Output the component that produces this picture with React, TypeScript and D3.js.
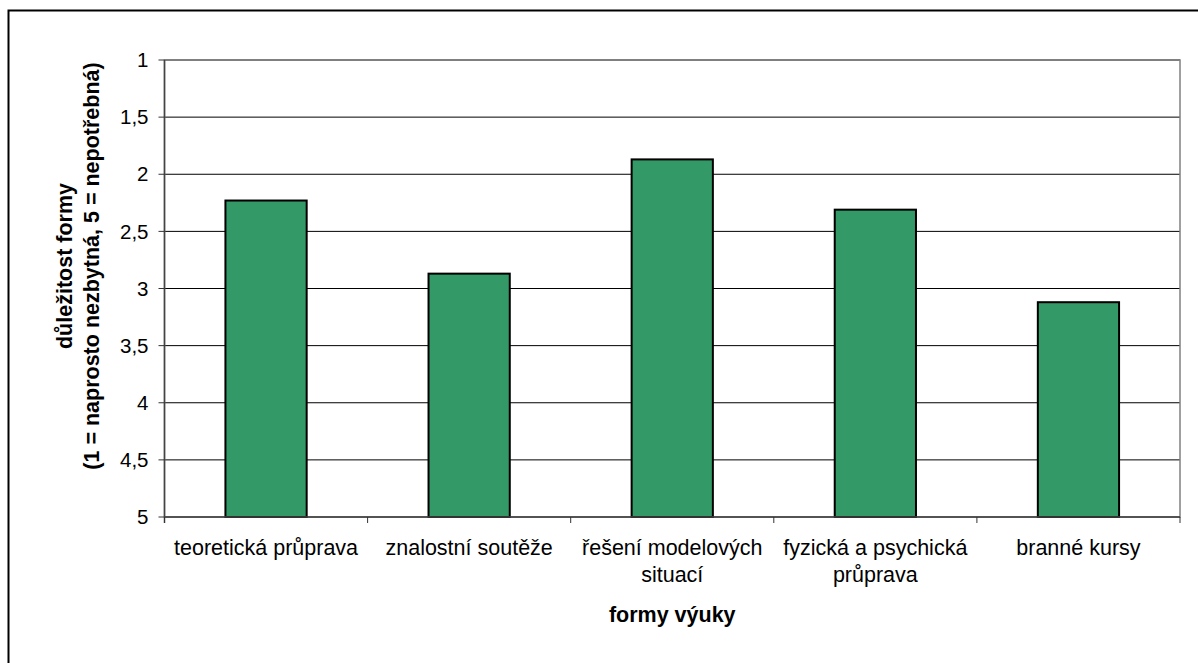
import React from "react";
import * as d3 from "d3";

const categories: string[] = [
  "teoretická průprava",
  "znalostní soutěže",
  "řešení modelových\nsituací",
  "fyzická a psychická\nprůprava",
  "branné kursy",
];
const values: number[] = [2.23, 2.87, 1.87, 2.31, 3.12];
const yTicks: number[] = [1, 1.5, 2, 2.5, 3, 3.5, 4, 4.5, 5];
const yTitleLines: string[] = ["důležitost formy", "(1 = naprosto nezbytná, 5 = nepotřebná)"];
const xTitle = "formy výuky";

const W = 1198;
const H = 663;
const plot = { left: 164.5, right: 1180, top: 60, bottom: 517 };
const FONT = "'Liberation Sans', Arial, sans-serif";

export default function App() {
  const x = d3
    .scaleBand<string>()
    .domain(categories)
    .range([plot.left, plot.right])
    .padding(0);
  const y = d3.scaleLinear().domain([1, 5]).range([plot.top, plot.bottom]);
  const bw = x.bandwidth();
  const fmt = (v: number) => String(v).replace(".", ",");

  return (
    <svg
      width={W}
      height={H}
      style={{ position: "absolute", left: 0, top: 0, background: "#fff" }}
    >
      <rect x={0} y={0} width={W} height={H} fill="#fff" />
      {/* outer frame */}
      <rect x={8.5} y={10.5} width={1400} height={900} fill="none" stroke="#000" strokeWidth={2} />

      {/* gridlines */}
      {yTicks.map((t) => (
        <line
          key={"g" + t}
          x1={plot.left}
          x2={plot.right}
          y1={y(t)}
          y2={y(t)}
          stroke="#000"
          strokeWidth={1}
        />
      ))}

      {/* plot border */}
      <rect
        x={plot.left}
        y={plot.top}
        width={plot.right - plot.left}
        height={plot.bottom - plot.top}
        fill="none"
        stroke="#808080"
        strokeWidth={1.5}
      />

      {/* bars */}
      {categories.map((c, i) => {
        const x0 = (x(c) as number) + bw * 0.3;
        const yTop = y(values[i]);
        return (
          <rect
            key={"b" + i}
            x={x0}
            y={yTop}
            width={bw * 0.4}
            height={y(5) - yTop}
            fill="#339966"
            stroke="#000"
            strokeWidth={2}
          />
        );
      })}

      {/* y axis */}
      <line x1={plot.left} x2={plot.left} y1={plot.top} y2={plot.bottom + 6} stroke="#444" strokeWidth={1.5} />
      {yTicks.map((t) => (
        <g key={"t" + t}>
          <line
            x1={plot.left - 6}
            x2={plot.left}
            y1={y(t)}
            y2={y(t)}
            stroke="#333"
            strokeWidth={1}
          />
          <text
            x={plot.left - 16}
            y={y(t)}
            dy="0.35em"
            textAnchor="end"
            fontFamily={FONT}
            fontSize={20.5}
            fill="#000"
          >
            {fmt(t)}
          </text>
        </g>
      ))}

      {/* x axis */}
      <line x1={plot.left} x2={plot.right} y1={plot.bottom} y2={plot.bottom} stroke="#444" strokeWidth={1.5} />
      {[...categories.map((c) => x(c) as number), plot.right].map((px, i) => (
        <line
          key={"xt" + i}
          x1={px}
          x2={px}
          y1={plot.bottom}
          y2={plot.bottom + 6}
          stroke="#333"
          strokeWidth={1}
        />
      ))}
      {categories.map((c, i) => (
        <text
          key={"xl" + i}
          x={(x(c) as number) + bw / 2}
          y={555}
          textAnchor="middle"
          fontFamily={FONT}
          fontSize={21.5}
          fill="#000"
        >
          {c.split("\n").map((line, j) => (
            <tspan key={j} x={(x(c) as number) + bw / 2} dy={j === 0 ? 0 : 27}>
              {line}
            </tspan>
          ))}
        </text>
      ))}

      {/* axis titles */}
      <text
        x={(plot.left + plot.right) / 2}
        y={622}
        textAnchor="middle"
        fontFamily={FONT}
        fontSize={21.5}
        fontWeight="bold"
        fill="#000"
      >
        {xTitle}
      </text>
      <g transform={`translate(0, 266) rotate(-90)`}>
        {yTitleLines.map((l, i) => (
          <text
            key={"yt" + i}
            x={0}
            y={i === 0 ? 72 : 99}
            textAnchor="middle"
            fontFamily={FONT}
            fontSize={21.5}
            fontWeight="bold"
            fill="#000"
          >
            {l}
          </text>
        ))}
      </g>
    </svg>
  );
}
